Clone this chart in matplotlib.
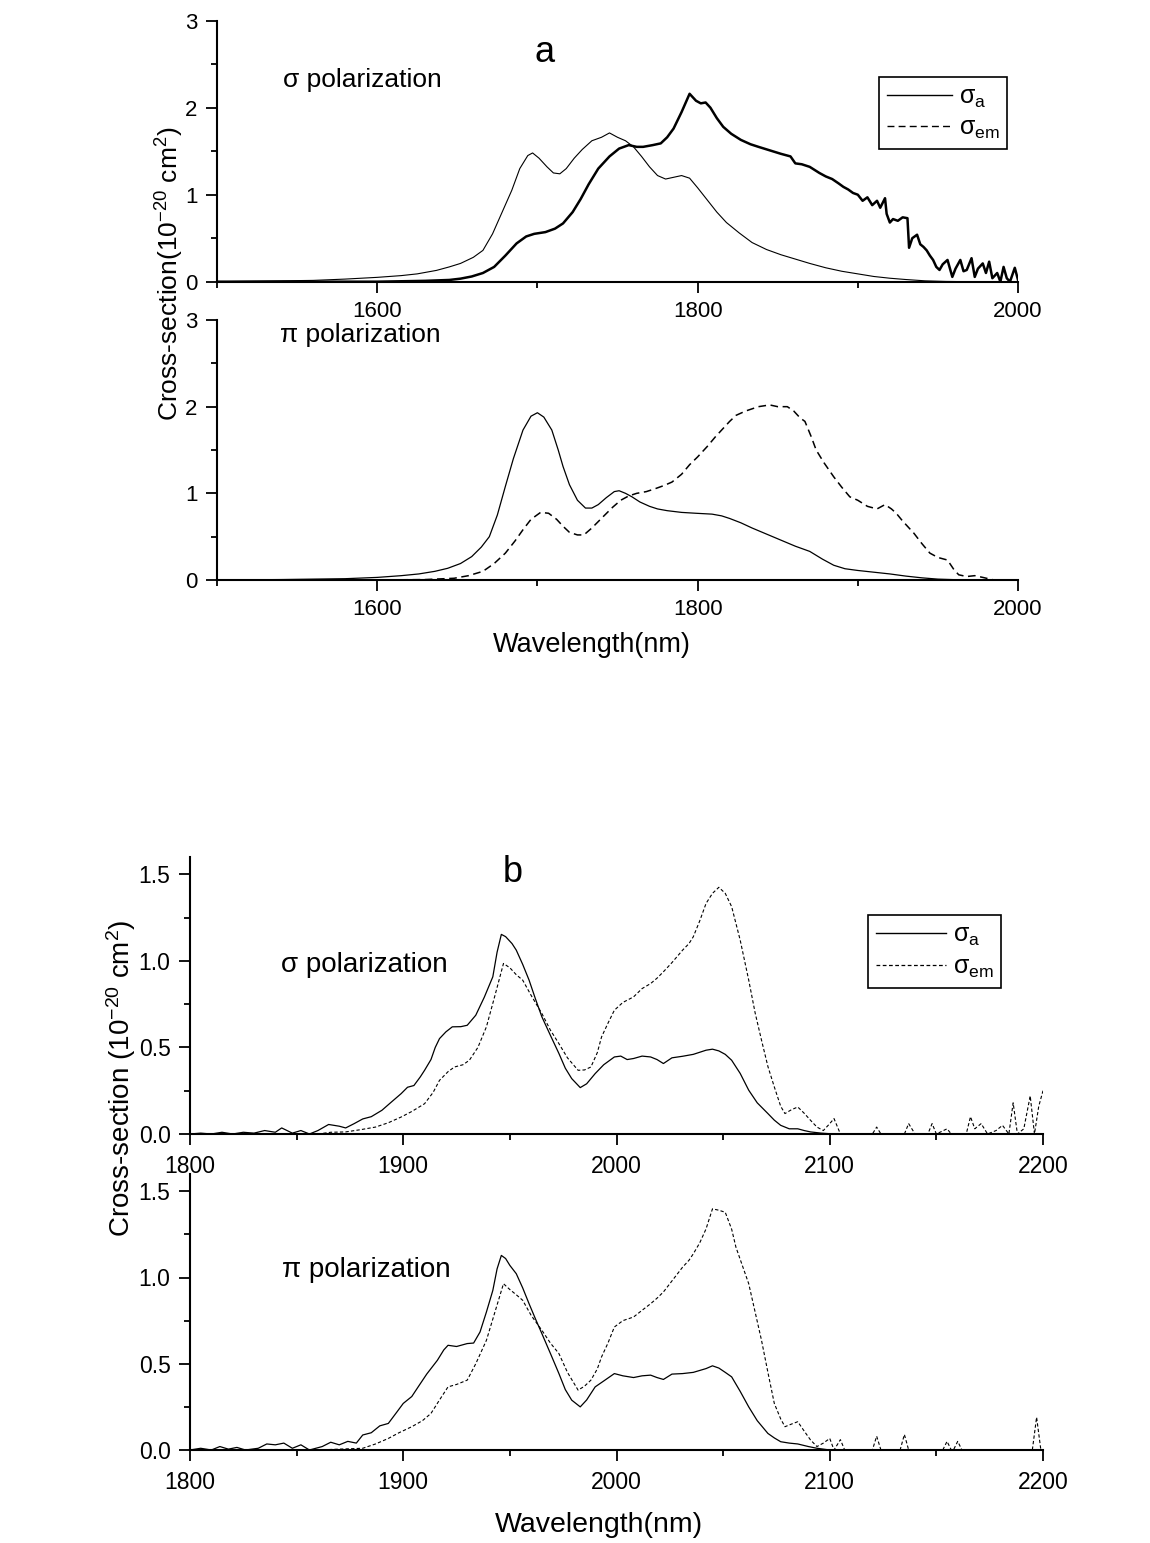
import numpy as np
import matplotlib
matplotlib.use("Agg")
import matplotlib.pyplot as plt
from matplotlib.lines import Line2D
from matplotlib.ticker import MultipleLocator, FixedLocator

plt.rcParams['font.family'] = ['Liberation Sans', 'DejaVu Sans']
plt.rcParams['mathtext.fontset'] = 'custom'
plt.rcParams['mathtext.rm'] = 'Liberation Sans'
plt.rcParams['mathtext.default'] = 'regular'

# ---- panel a, sigma polarization (wavelength nm, cross-section 1e-20 cm2)
a_sig_abs_wl = [1500, 1520, 1540, 1560, 1580, 1600, 1615, 1625, 1637, 1645, 1652, 1660, 1666, 1672,
                1678, 1684, 1689, 1694, 1697, 1701, 1706, 1710, 1714, 1718, 1723, 1728, 1734, 1740,
                1745, 1750, 1755, 1760, 1765, 1770, 1775, 1780, 1785, 1790, 1795, 1800, 1806, 1812,
                1818, 1826, 1834, 1843, 1852, 1861, 1870, 1880, 1890, 1900, 1910, 1920, 1930, 1942,
                1955, 1970, 2000]
a_sig_abs = [0.0, 0.005, 0.01, 0.015, 0.03, 0.05, 0.07, 0.09, 0.13, 0.17, 0.21, 0.28, 0.36, 0.55,
             0.80, 1.05, 1.30, 1.45, 1.48, 1.42, 1.32, 1.25, 1.24, 1.30, 1.42, 1.52, 1.62, 1.66,
             1.71, 1.66, 1.62, 1.55, 1.44, 1.32, 1.22, 1.18, 1.20, 1.22, 1.19, 1.08, 0.94, 0.80,
             0.68, 0.56, 0.45, 0.37, 0.31, 0.26, 0.21, 0.16, 0.12, 0.09, 0.06, 0.04, 0.025, 0.01,
             0.003, 0.0, 0.0]

a_sig_em_wl = [1500, 1600, 1630, 1645, 1652, 1659, 1666, 1673, 1680, 1687, 1693, 1698, 1705, 1711,
               1716, 1722, 1727, 1732, 1738, 1745, 1751, 1757, 1762, 1766, 1772, 1777, 1781, 1785,
               1790, 1795, 1799, 1802, 1805, 1808, 1812, 1816, 1821, 1827, 1833, 1838, 1845, 1852,
               1858, 1861, 1865, 1870, 1876, 1880, 1884, 1888, 1891, 1894, 1897, 1900, 1903, 1906,
               1909, 1912, 1914, 1917, 1918, 1920, 1922, 1925, 1928, 1931, 1932, 1934, 1937, 1939,
               1941, 1943, 1945, 1947, 1949, 1951, 1953, 1956, 1958, 1959, 1961, 1964, 1966, 1968,
               1971, 1973, 1975, 1978, 1980, 1982, 1984, 1987, 1989, 1991, 1993, 1995, 1998, 2000]
a_sig_em = [0.0, 0.0, 0.01, 0.02, 0.035, 0.06, 0.10, 0.17, 0.30, 0.44, 0.52, 0.55, 0.57, 0.61,
            0.67, 0.80, 0.95, 1.12, 1.30, 1.44, 1.53, 1.57, 1.55, 1.55, 1.57, 1.59, 1.66, 1.76,
            1.95, 2.16, 2.08, 2.05, 2.06, 2.00, 1.88, 1.78, 1.70, 1.63, 1.58, 1.55, 1.51, 1.47,
            1.44, 1.36, 1.35, 1.32, 1.25, 1.21, 1.18, 1.13, 1.09, 1.06, 1.02, 1.00, 0.93, 0.97,
            0.88, 0.93, 0.85, 0.96, 0.78, 0.68, 0.72, 0.70, 0.74, 0.73, 0.39, 0.50, 0.54, 0.43,
            0.40, 0.36, 0.30, 0.25, 0.17, 0.135, 0.20, 0.25, 0.12, 0.055, 0.15, 0.25, 0.12, 0.135,
            0.27, 0.055, 0.15, 0.21, 0.10, 0.23, 0.04, 0.10, 0.0, 0.17, 0.04, 0.0, 0.16, 0.02]

# ---- panel a, pi polarization
a_pi_abs_wl = [1500, 1540, 1580, 1600, 1615, 1626, 1636, 1644, 1652, 1659, 1665, 1670, 1675, 1680,
               1685, 1691, 1696, 1700, 1704, 1709, 1713, 1716, 1720, 1725, 1730, 1734, 1738, 1743,
               1748, 1751, 1755, 1759, 1764, 1770, 1775, 1781, 1790, 1799, 1809, 1815, 1820, 1827,
               1834, 1843, 1852, 1861, 1870, 1878, 1885, 1892, 1900, 1910, 1920, 1930, 1940, 1950,
               1960, 1975, 2000]
a_pi_abs = [0.0, 0.005, 0.015, 0.03, 0.05, 0.07, 0.10, 0.135, 0.19, 0.27, 0.38, 0.50, 0.75, 1.08,
            1.40, 1.73, 1.89, 1.93, 1.88, 1.73, 1.50, 1.31, 1.10, 0.92, 0.83, 0.83, 0.87, 0.95,
            1.02, 1.03, 1.00, 0.96, 0.90, 0.85, 0.82, 0.80, 0.78, 0.77, 0.76, 0.74, 0.71, 0.66,
            0.60, 0.53, 0.46, 0.39, 0.33, 0.24, 0.17, 0.13, 0.11, 0.09, 0.07, 0.045, 0.025, 0.01,
            0.004, 0.0, 0.0]

a_pi_em_wl = [1500, 1600, 1630, 1648, 1657, 1666, 1673, 1680, 1686, 1691, 1696, 1702, 1707, 1712,
              1716, 1720, 1725, 1729, 1734, 1741, 1747, 1752, 1757, 1762, 1768, 1773, 1779, 1784,
              1790, 1795, 1800, 1806, 1811, 1816, 1820, 1824, 1830, 1838, 1845, 1850, 1856, 1860,
              1864, 1867, 1871, 1874, 1879, 1885, 1890, 1895, 1900, 1906, 1912, 1917, 1921, 1924,
              1928, 1932, 1935, 1940, 1945, 1950, 1956, 1960, 1963, 1968, 1973, 1978, 1985, 2000]
a_pi_em = [0.0, 0.0, 0.005, 0.02, 0.05, 0.10, 0.19, 0.31, 0.45, 0.58, 0.70, 0.78, 0.77, 0.70,
           0.62, 0.55, 0.52, 0.52, 0.60, 0.73, 0.84, 0.92, 0.97, 1.00, 1.02, 1.05, 1.09, 1.13,
           1.22, 1.33, 1.42, 1.54, 1.65, 1.75, 1.83, 1.90, 1.95, 2.00, 2.02, 2.00, 2.00, 1.95,
           1.87, 1.83, 1.65, 1.50, 1.35, 1.19, 1.07, 0.96, 0.92, 0.85, 0.82, 0.87, 0.82, 0.77,
           0.68, 0.60, 0.54, 0.42, 0.31, 0.26, 0.23, 0.12, 0.06, 0.04, 0.05, 0.03, 0.0, 0.0]

# ---- panel b, sigma polarization
b_sig_abs_wl = [1800, 1805, 1810, 1815, 1820, 1825, 1830, 1835, 1840, 1843, 1848, 1852, 1856, 1860,
                1865, 1870, 1873, 1877, 1881, 1885, 1890, 1894, 1899, 1902, 1905, 1908, 1910, 1913,
                1915, 1917, 1920, 1923, 1927, 1930, 1934, 1938, 1942, 1944, 1946, 1948, 1951, 1953,
                1956, 1959, 1962, 1965, 1969, 1973, 1976, 1979, 1983, 1986, 1990, 1994, 1999, 2002,
                2005, 2008, 2012, 2016, 2019, 2022, 2026, 2031, 2036, 2042, 2045, 2048, 2051, 2054,
                2058, 2062, 2066, 2071, 2074, 2077, 2081, 2085, 2088, 2091, 2096, 2102, 2200]
b_sig_abs = [0.0, 0.005, 0.0, 0.01, 0.0, 0.01, 0.005, 0.02, 0.01, 0.035, 0.005, 0.02, 0.0, 0.02,
             0.055, 0.045, 0.035, 0.06, 0.087, 0.10, 0.137, 0.18, 0.233, 0.27, 0.28, 0.33, 0.368, 0.43,
             0.50, 0.551, 0.59, 0.619, 0.62, 0.628, 0.686, 0.79, 0.908, 1.05, 1.153, 1.14, 1.10, 1.062,
             0.98, 0.889, 0.78, 0.677, 0.57, 0.465, 0.38, 0.32, 0.268, 0.29, 0.349, 0.40, 0.445, 0.45,
             0.43, 0.436, 0.45, 0.445, 0.43, 0.407, 0.44, 0.449, 0.46, 0.484, 0.49, 0.48, 0.46, 0.426,
             0.35, 0.253, 0.18, 0.118, 0.08, 0.05, 0.03, 0.03, 0.02, 0.012, 0.005, 0.0, 0.0]

b_sig_em_wl = [1800, 1860, 1866, 1873, 1880, 1887, 1893, 1899, 1904, 1910, 1914, 1917, 1921, 1924,
               1928, 1931, 1935, 1939, 1943, 1947, 1950, 1953, 1956, 1960, 1965, 1969, 1973, 1977,
               1982, 1985, 1988, 1991, 1993, 1996, 1999, 2003, 2008, 2012, 2016, 2019, 2022, 2026,
               2031, 2034, 2036, 2039, 2042, 2045, 2048, 2051, 2054, 2058, 2062, 2065, 2068, 2071,
               2074, 2077, 2079, 2082, 2085, 2088, 2091, 2094, 2097, 2100, 2102, 2105, 2120, 2122,
               2124, 2135, 2137, 2140, 2146, 2148, 2150, 2155, 2157, 2164, 2166, 2168, 2171, 2174,
               2178, 2181, 2184, 2186, 2188, 2191, 2194, 2196, 2198, 2200]
b_sig_em = [0.0, 0.0, 0.01, 0.012, 0.025, 0.04, 0.065, 0.098, 0.13, 0.175, 0.24, 0.31, 0.36, 0.387,
            0.40, 0.426, 0.50, 0.619, 0.80, 0.985, 0.96, 0.92, 0.889, 0.80, 0.696, 0.60, 0.522, 0.44,
            0.368, 0.37, 0.387, 0.47, 0.561, 0.64, 0.715, 0.76, 0.792, 0.84, 0.869, 0.90, 0.937, 0.99,
            1.062, 1.10, 1.139, 1.23, 1.332, 1.39, 1.425, 1.39, 1.313, 1.12, 0.889, 0.70, 0.542, 0.39,
            0.272, 0.16, 0.118, 0.14, 0.156, 0.12, 0.079, 0.04, 0.02, 0.06, 0.089, 0.0, 0.0, 0.04,
            0.0, 0.0, 0.06, 0.0, 0.0, 0.06, 0.0, 0.03, 0.0, 0.0, 0.10, 0.03, 0.06, 0.0,
            0.02, 0.05, 0.0, 0.18, 0.0, 0.03, 0.22, 0.0, 0.16, 0.25]

# ---- panel b, pi polarization
b_pi_abs_wl = [1800, 1805, 1810, 1814, 1818, 1822, 1826, 1832, 1836, 1840, 1844, 1848, 1852, 1856,
               1862, 1866, 1870, 1874, 1878, 1881, 1885, 1889, 1893, 1897, 1900, 1904, 1907, 1911,
               1916, 1919, 1921, 1925, 1930, 1933, 1936, 1939, 1942, 1944, 1946, 1948, 1950, 1953,
               1956, 1959, 1962, 1965, 1969, 1973, 1976, 1979, 1983, 1986, 1990, 1994, 1999, 2003,
               2008, 2012, 2016, 2019, 2022, 2026, 2031, 2036, 2042, 2045, 2048, 2051, 2054, 2058,
               2062, 2066, 2071, 2074, 2077, 2081, 2085, 2090, 2094, 2100, 2200]
b_pi_abs = [0.0, 0.01, 0.0, 0.02, 0.005, 0.015, 0.0, 0.01, 0.035, 0.03, 0.04, 0.01, 0.03, 0.0,
            0.02, 0.045, 0.03, 0.05, 0.04, 0.087, 0.10, 0.14, 0.154, 0.22, 0.27, 0.31, 0.366, 0.44,
            0.52, 0.58, 0.607, 0.60, 0.617, 0.62, 0.684, 0.80, 0.925, 1.05, 1.128, 1.11, 1.07, 1.022,
            0.94, 0.848, 0.76, 0.675, 0.56, 0.443, 0.35, 0.289, 0.25, 0.29, 0.366, 0.40, 0.443, 0.43,
            0.42, 0.43, 0.434, 0.42, 0.409, 0.44, 0.443, 0.45, 0.472, 0.488, 0.475, 0.45, 0.424, 0.34,
            0.25, 0.17, 0.096, 0.07, 0.048, 0.04, 0.035, 0.02, 0.01, 0.0, 0.0]

b_pi_em_wl = [1800, 1860, 1870, 1881, 1887, 1893, 1898, 1904, 1909, 1913, 1917, 1921, 1925, 1930,
              1934, 1939, 1943, 1947, 1950, 1953, 1956, 1960, 1965, 1969, 1973, 1977, 1982, 1985,
              1988, 1991, 1993, 1996, 1999, 2003, 2008, 2012, 2016, 2019, 2022, 2026, 2031, 2034,
              2036, 2039, 2042, 2045, 2048, 2051, 2054, 2056, 2059, 2062, 2065, 2068, 2071, 2074,
              2077, 2079, 2082, 2085, 2088, 2091, 2094, 2097, 2100, 2102, 2105, 2107, 2120, 2122,
              2124, 2133, 2135, 2137, 2153, 2155, 2157, 2158, 2160, 2162, 2195, 2197, 2199, 2200]
b_pi_em = [0.0, 0.0, 0.005, 0.01, 0.035, 0.067, 0.10, 0.135, 0.17, 0.212, 0.29, 0.366, 0.38, 0.405,
           0.50, 0.636, 0.80, 0.964, 0.93, 0.90, 0.868, 0.78, 0.694, 0.62, 0.559, 0.45, 0.347, 0.37,
           0.405, 0.47, 0.54, 0.62, 0.713, 0.75, 0.771, 0.81, 0.848, 0.88, 0.916, 0.98, 1.06, 1.10,
           1.137, 1.20, 1.282, 1.398, 1.39, 1.378, 1.28, 1.176, 1.07, 0.964, 0.80, 0.636, 0.45, 0.27,
           0.18, 0.135, 0.15, 0.164, 0.11, 0.058, 0.02, 0.04, 0.067, 0.0, 0.06, 0.0, 0.0, 0.08,
           0.0, 0.0, 0.09, 0.0, 0.0, 0.05, 0.0, 0.0, 0.05, 0.0, 0.0, 0.19, 0.0, 0.0]

W, H = 1150, 1543


def px_box(x0, y0, x1, y1):
    # pixel box (top-left origin) -> figure fraction rect
    return [x0 / W, 1 - y1 / H, (x1 - x0) / W, (y1 - y0) / H]


def style_axis(ax, label_size):
    for side in ("top", "right"):
        ax.spines[side].set_visible(False)
    for side in ("left", "bottom"):
        ax.spines[side].set_linewidth(1.5)
    ax.tick_params(which="major", direction="out", length=8, width=1.3,
                   labelsize=label_size, pad=6)
    ax.tick_params(which="minor", direction="out", length=4.5, width=1.3)


fig = plt.figure(figsize=(W / 100, H / 100), dpi=100)

# ---------------- panel a ----------------
ax_a1 = fig.add_axes(px_box(217, 20.7, 1018, 281.7))
ax_a2 = fig.add_axes(px_box(217, 320, 1018, 580))
for ax in (ax_a1, ax_a2):
    ax.set_xlim(1500, 2000)
    ax.set_ylim(0, 3)
    ax.xaxis.set_major_locator(FixedLocator([1600, 1800, 2000]))
    ax.xaxis.set_minor_locator(FixedLocator([1500, 1700, 1900]))
    ax.yaxis.set_major_locator(MultipleLocator(1))
    ax.yaxis.set_minor_locator(MultipleLocator(0.5))
    style_axis(ax, 16)

ax_a1.plot(a_sig_abs_wl, a_sig_abs, color="black", lw=0.8)
ax_a1.plot(a_sig_em_wl, a_sig_em, color="black", lw=1.8)
ax_a2.plot(a_pi_abs_wl, a_pi_abs, color="black", lw=0.9)
ax_a2.plot(a_pi_em_wl, a_pi_em, color="black", lw=1.1, dashes=(5, 3))

fig.text(545 / W, 1 - 53 / H, "a", fontsize=26, ha="center", va="center")
fig.text(283 / W, 1 - 80 / H, "σ polarization", fontsize=19, ha="left", va="center")
fig.text(280 / W, 1 - 335 / H, "π polarization", fontsize=19, ha="left", va="center")
fig.text(170 / W, 1 - 274 / H, r"Cross-section(10$^{-20}$ cm$^{2}$)", fontsize=19,
         rotation=90, ha="center", va="center")
fig.text(592 / W, 1 - 645 / H, "Wavelength(nm)", fontsize=19.5, ha="center", va="center")

leg_a = [Line2D([], [], color="black", lw=1.0),
         Line2D([], [], color="black", lw=1.0, dashes=(5, 3))]
ax_a1.legend(leg_a, [r"σ$_a$", r"σ$_{em}$"], loc="upper left",
             bbox_to_anchor=(879 / W, 1 - 77 / H), bbox_transform=fig.transFigure,
             fontsize=18, frameon=True, fancybox=False, edgecolor="black", framealpha=1,
             handlelength=2.6, handletextpad=0.3, borderpad=0.3, labelspacing=0.25,
             borderaxespad=0)

# ---------------- panel b ----------------
ax_b1 = fig.add_axes(px_box(190, 857, 1043, 1134))
ax_b2 = fig.add_axes(px_box(190, 1174, 1043, 1450))
for ax in (ax_b1, ax_b2):
    ax.set_xlim(1800, 2200)
    ax.set_ylim(0, 1.6)
    ax.xaxis.set_major_locator(MultipleLocator(100))
    ax.xaxis.set_minor_locator(MultipleLocator(50))
    ax.yaxis.set_major_locator(MultipleLocator(0.5))
    ax.yaxis.set_minor_locator(MultipleLocator(0.25))
    style_axis(ax, 16.5)
    ax.tick_params(axis="x", which="major", pad=7)

ax_b1.plot(b_sig_abs_wl, b_sig_abs, color="black", lw=0.9)
ax_b1.plot(b_sig_em_wl, b_sig_em, color="black", lw=0.8, dashes=(3, 2))
ax_b2.plot(b_pi_abs_wl, b_pi_abs, color="black", lw=0.9)
ax_b2.plot(b_pi_em_wl, b_pi_em, color="black", lw=0.8, dashes=(3, 2))

fig.text(513 / W, 1 - 873 / H, "b", fontsize=26, ha="center", va="center")
fig.text(281 / W, 1 - 965 / H, "σ polarization", fontsize=20, ha="left", va="center")
fig.text(282 / W, 1 - 1270 / H, "π polarization", fontsize=20, ha="left", va="center")
fig.text(121 / W, 1 - 1078 / H, r"Cross-section (10$^{-20}$ cm$^{2}$)", fontsize=20,
         rotation=90, ha="center", va="center")
fig.text(599 / W, 1 - 1525 / H, "Wavelength(nm)", fontsize=20.5, ha="center", va="center")

leg_b = [Line2D([], [], color="black", lw=1.0),
         Line2D([], [], color="black", lw=0.9, dashes=(3, 2))]
ax_b1.legend(leg_b, [r"σ$_a$", r"σ$_{em}$"], loc="upper left",
             bbox_to_anchor=(868 / W, 1 - 915 / H), bbox_transform=fig.transFigure,
             fontsize=18, frameon=True, fancybox=False, edgecolor="black", framealpha=1,
             handlelength=2.8, handletextpad=0.3, borderpad=0.3, labelspacing=0.3,
             borderaxespad=0)

for leg in (ax_a1.get_legend(), ax_b1.get_legend()):
    leg.get_frame().set_linewidth(1.2)

fig.savefig("out.png", dpi=100)
